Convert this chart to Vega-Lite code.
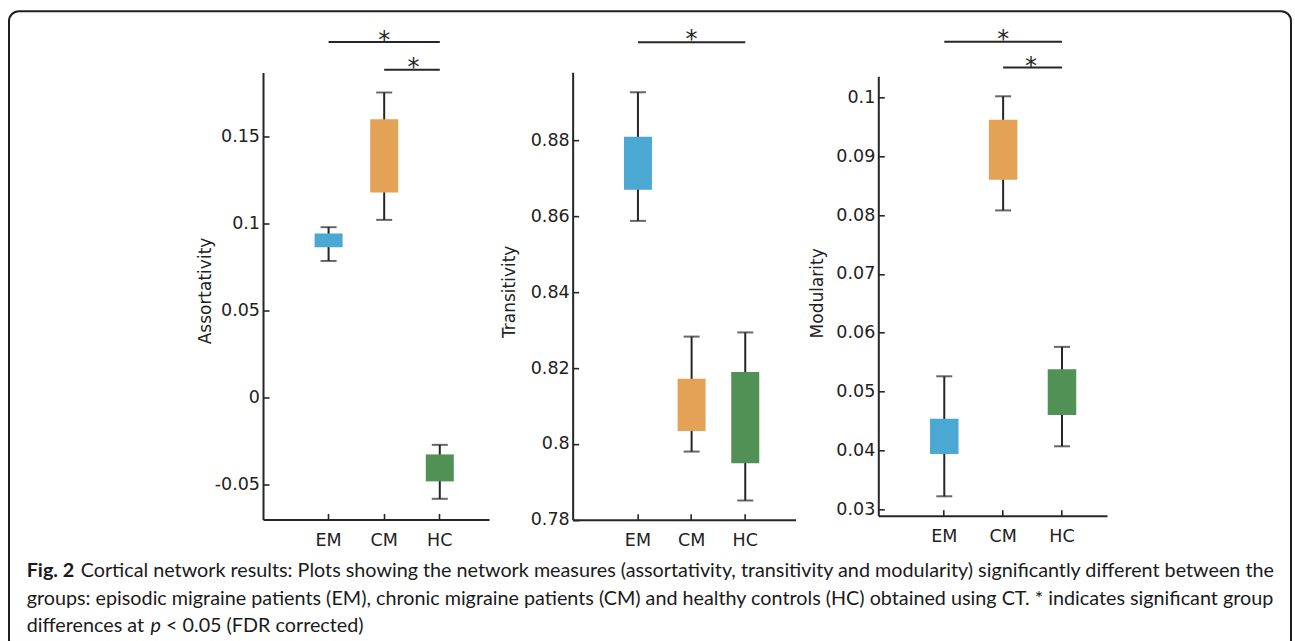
{
  "$schema": "https://vega.github.io/schema/vega-lite/v6.json",
  "padding": {"left": 8, "top": 10, "right": 0, "bottom": 0},
  "background": "white",
  "config": {
    "view": {"stroke": null},
    "axis": {
      "domainColor": "#262626", "domainWidth": 2,
      "tickColor": "#262626", "tickWidth": 1.6, "tickSize": -6,
      "labelFont": "DejaVu Sans", "labelFontSize": 17.5, "labelColor": "#222222",
      "titleFont": "DejaVu Sans", "titleFontSize": 17, "titleFontWeight": "normal", "titleColor": "#222222",
      "grid": false
    },
    "axisX": {"labelPadding": 18, "labelAngle": 0},
    "axisY": {"labelPadding": 9.5}
  },
  "datasets": {
    "boxes": [
      {"measure": "Assortativity", "group": "EM", "lo": 0.0783, "q1": 0.0862, "q3": 0.0940, "hi": 0.0977},
      {"measure": "Assortativity", "group": "CM", "lo": 0.1019, "q1": 0.1176, "q3": 0.1598, "hi": 0.1751},
      {"measure": "Assortativity", "group": "HC", "lo": -0.0584, "q1": -0.0484, "q3": -0.0329, "hi": -0.0274},
      {"measure": "Transitivity", "group": "EM", "lo": 0.8588, "q1": 0.867, "q3": 0.881, "hi": 0.8927},
      {"measure": "Transitivity", "group": "CM", "lo": 0.798, "q1": 0.8034, "q3": 0.8172, "hi": 0.8283},
      {"measure": "Transitivity", "group": "HC", "lo": 0.7851, "q1": 0.7949, "q3": 0.819, "hi": 0.8294},
      {"measure": "Modularity", "group": "EM", "lo": 0.0322, "q1": 0.0394, "q3": 0.0454, "hi": 0.0526},
      {"measure": "Modularity", "group": "CM", "lo": 0.0808, "q1": 0.0860, "q3": 0.0962, "hi": 0.1002},
      {"measure": "Modularity", "group": "HC", "lo": 0.0407, "q1": 0.0460, "q3": 0.0538, "hi": 0.0576}
    ],
    "sig": [
      {"measure": "Assortativity", "from": "EM", "to": "HC", "mid": "CM", "pair": "outer", "level": 0.2042, "star": "*"},
      {"measure": "Assortativity", "from": "CM", "to": "HC", "mid": "HC", "pair": "inner", "level": 0.1882, "star": "*"},
      {"measure": "Transitivity", "from": "EM", "to": "HC", "mid": "CM", "pair": "outer", "level": 0.9059, "star": "*"},
      {"measure": "Modularity", "from": "EM", "to": "HC", "mid": "CM", "pair": "outer", "level": 0.10946, "star": "*"},
      {"measure": "Modularity", "from": "CM", "to": "HC", "mid": "HC", "pair": "inner", "level": 0.1051, "star": "*"}
    ]
  },
  "hconcat": [
    {
      "width": 226.05, "height": 447,
      "layer": [
        {
          "layer": [
            {"data": {"name": "boxes"}, "transform": [{"filter": "datum.measure === 'Assortativity'"}],
             "mark": {"type": "rule", "color": "#262626", "strokeWidth": 2},
             "encoding": {
               "x": {"field": "group", "type": "nominal", "scale": {"type": "band", "domain": ["EM", "CM", "HC"], "paddingInner": 0.4964, "paddingOuter": 0.781, "align": 0.594}, "axis": {"title": null}},
               "y": {"field": "lo", "type": "quantitative", "scale": {"domain": [-0.0703, 0.1866], "nice": false, "zero": false},
                     "axis": {"title": "Assortativity", "values": [-0.05, 0, 0.05, 0.1, 0.15], "labelExpr": "toString(datum.value)", "titleX": -58, "titleY": 218, "titleAngle": -90, "titleBaseline": "middle", "titleAlign": "center"}},
               "y2": {"field": "hi"}}},
            {"data": {"name": "boxes"}, "transform": [{"filter": "datum.measure === 'Assortativity'"}],
             "mark": {"type": "tick", "color": "#262626", "thickness": 2, "size": 16, "orient": "horizontal"},
             "encoding": {
               "x": {"field": "group", "type": "nominal", "scale": {"type": "band", "domain": ["EM", "CM", "HC"], "paddingInner": 0.4964, "paddingOuter": 0.781, "align": 0.594}, "axis": {"title": null}},
               "y": {"field": "lo", "type": "quantitative", "scale": {"domain": [-0.0703, 0.1866], "nice": false, "zero": false},
                     "axis": {"title": "Assortativity", "values": [-0.05, 0, 0.05, 0.1, 0.15], "labelExpr": "toString(datum.value)", "titleX": -58, "titleY": 218, "titleAngle": -90, "titleBaseline": "middle", "titleAlign": "center"}}}},
            {"data": {"name": "boxes"}, "transform": [{"filter": "datum.measure === 'Assortativity'"}],
             "mark": {"type": "tick", "color": "#262626", "thickness": 2, "size": 16, "orient": "horizontal"},
             "encoding": {
               "x": {"field": "group", "type": "nominal", "scale": {"type": "band", "domain": ["EM", "CM", "HC"], "paddingInner": 0.4964, "paddingOuter": 0.781, "align": 0.594}, "axis": {"title": null}},
               "y": {"field": "hi", "type": "quantitative", "scale": {"domain": [-0.0703, 0.1866], "nice": false, "zero": false},
                     "axis": {"title": "Assortativity", "values": [-0.05, 0, 0.05, 0.1, 0.15], "labelExpr": "toString(datum.value)", "titleX": -58, "titleY": 218, "titleAngle": -90, "titleBaseline": "middle", "titleAlign": "center"}}}},
            {"data": {"name": "boxes"}, "transform": [{"filter": "datum.measure === 'Assortativity'"}],
             "mark": {"type": "bar"},
             "encoding": {
               "x": {"field": "group", "type": "nominal", "scale": {"type": "band", "domain": ["EM", "CM", "HC"], "paddingInner": 0.4964, "paddingOuter": 0.781, "align": 0.594}, "axis": {"title": null}},
               "y": {"field": "q1", "type": "quantitative", "scale": {"domain": [-0.0703, 0.1866], "nice": false, "zero": false},
                     "axis": {"title": "Assortativity", "values": [-0.05, 0, 0.05, 0.1, 0.15], "labelExpr": "toString(datum.value)", "titleX": -58, "titleY": 218, "titleAngle": -90, "titleBaseline": "middle", "titleAlign": "center"}},
               "y2": {"field": "q3"},
               "color": {"field": "group", "type": "nominal", "scale": {"domain": ["EM", "CM", "HC"], "range": ["#4aa8d3", "#e4a256", "#519156"]}, "legend": null}}},
            {"data": {"name": "sig"}, "transform": [{"filter": "datum.measure === 'Assortativity'"}],
             "mark": {"type": "rule", "color": "#262626", "strokeWidth": 2},
             "encoding": {
               "x": {"field": "from", "type": "nominal", "scale": {"type": "band", "domain": ["EM", "CM", "HC"], "paddingInner": 0.4964, "paddingOuter": 0.781, "align": 0.594}, "axis": {"title": null}},
               "x2": {"field": "to"},
               "y": {"field": "level", "type": "quantitative", "scale": {"domain": [-0.0703, 0.1866], "nice": false, "zero": false},
                     "axis": {"title": "Assortativity", "values": [-0.05, 0, 0.05, 0.1, 0.15], "labelExpr": "toString(datum.value)", "titleX": -58, "titleY": 218, "titleAngle": -90, "titleBaseline": "middle", "titleAlign": "center"}}}},
            {"data": {"name": "sig"}, "transform": [{"filter": "datum.measure === 'Assortativity' && datum.pair === 'outer'"}],
             "mark": {"type": "text", "font": "DejaVu Sans", "fontSize": 24, "baseline": "alphabetic", "dy": 5.8, "color": "#262626"},
             "encoding": {
               "x": {"field": "mid", "type": "nominal", "scale": {"type": "band", "domain": ["EM", "CM", "HC"], "paddingInner": 0.4964, "paddingOuter": 0.781, "align": 0.594}, "axis": {"title": null}},
               "y": {"field": "level", "type": "quantitative", "scale": {"domain": [-0.0703, 0.1866], "nice": false, "zero": false},
                     "axis": {"title": "Assortativity", "values": [-0.05, 0, 0.05, 0.1, 0.15], "labelExpr": "toString(datum.value)", "titleX": -58, "titleY": 218, "titleAngle": -90, "titleBaseline": "middle", "titleAlign": "center"}},
               "text": {"field": "star"}}},
            {"data": {"name": "sig"}, "transform": [{"filter": "datum.measure === 'Assortativity' && datum.pair === 'inner'"}],
             "mark": {"type": "text", "font": "DejaVu Sans", "fontSize": 24, "baseline": "alphabetic", "dy": 5.5, "dx": -26.3, "color": "#262626"},
             "encoding": {
               "x": {"field": "mid", "type": "nominal", "scale": {"type": "band", "domain": ["EM", "CM", "HC"], "paddingInner": 0.4964, "paddingOuter": 0.781, "align": 0.594}, "axis": {"title": null}},
               "y": {"field": "level", "type": "quantitative", "scale": {"domain": [-0.0703, 0.1866], "nice": false, "zero": false},
                     "axis": {"title": "Assortativity", "values": [-0.05, 0, 0.05, 0.1, 0.15], "labelExpr": "toString(datum.value)", "titleX": -58, "titleY": 218, "titleAngle": -90, "titleBaseline": "middle", "titleAlign": "center"}},
               "text": {"field": "star"}}}
          ]
        },
        {
          "layer": [
            {"data": {"values": [{"frame": "figure border"}]},
             "mark": {"type": "rect", "filled": false, "color": "#1f1f1f", "strokeWidth": 2, "cornerRadius": 10},
             "encoding": {
               "x": {"datum": -254, "type": "quantitative", "scale": {"domain": [0, 226.05], "nice": false, "zero": false}, "axis": null},
               "x2": {"datum": 1028},
               "y": {"datum": -61.35, "type": "quantitative", "scale": {"domain": [0, 447], "reverse": true, "nice": false, "zero": false}, "axis": null},
               "y2": {"datum": 577.65}}},
            {"data": {"values": [{"text": "Fig. 2"}]},
             "mark": {"type": "text", "align": "left", "baseline": "alphabetic", "font": "Lato", "fontWeight": "bold", "fontSize": 19.75, "color": "#1a1a1a"},
             "encoding": {
               "x": {"datum": -236.3, "type": "quantitative", "scale": {"domain": [0, 226.05], "nice": false, "zero": false}, "axis": null},
               "y": {"datum": 504.65, "type": "quantitative", "scale": {"domain": [0, 447], "reverse": true, "nice": false, "zero": false}, "axis": null},
               "text": {"field": "text"}}},
            {"data": {"values": [{"text": "Cortical network results: Plots showing the network measures (assortativity, transitivity and modularity) significantly different between the"}]},
             "mark": {"type": "text", "align": "left", "baseline": "alphabetic", "font": "Lato", "fontSize": 19.75, "color": "#1a1a1a"},
             "encoding": {
               "x": {"datum": -182.3, "type": "quantitative", "scale": {"domain": [0, 226.05], "nice": false, "zero": false}, "axis": null},
               "y": {"datum": 504.65, "type": "quantitative", "scale": {"domain": [0, 447], "reverse": true, "nice": false, "zero": false}, "axis": null},
               "text": {"field": "text"}}},
            {"data": {"values": [{"text": "groups: episodic migraine patients (EM), chronic migraine patients (CM) and healthy controls (HC) obtained using CT. * indicates significant group"}]},
             "mark": {"type": "text", "align": "left", "baseline": "alphabetic", "font": "Lato", "fontSize": 19.75, "color": "#1a1a1a"},
             "encoding": {
               "x": {"datum": -236.3, "type": "quantitative", "scale": {"domain": [0, 226.05], "nice": false, "zero": false}, "axis": null},
               "y": {"datum": 532.15, "type": "quantitative", "scale": {"domain": [0, 447], "reverse": true, "nice": false, "zero": false}, "axis": null},
               "text": {"field": "text"}}},
            {"data": {"values": [{"text": "differences at"}]},
             "mark": {"type": "text", "align": "left", "baseline": "alphabetic", "font": "Lato", "fontSize": 19.75, "color": "#1a1a1a"},
             "encoding": {
               "x": {"datum": -236.3, "type": "quantitative", "scale": {"domain": [0, 226.05], "nice": false, "zero": false}, "axis": null},
               "y": {"datum": 559.65, "type": "quantitative", "scale": {"domain": [0, 447], "reverse": true, "nice": false, "zero": false}, "axis": null},
               "text": {"field": "text"}}},
            {"data": {"values": [{"text": "p"}]},
             "mark": {"type": "text", "align": "left", "baseline": "alphabetic", "font": "Lato", "fontStyle": "italic", "fontSize": 19.75, "color": "#1a1a1a"},
             "encoding": {
               "x": {"datum": -112.5, "type": "quantitative", "scale": {"domain": [0, 226.05], "nice": false, "zero": false}, "axis": null},
               "y": {"datum": 559.65, "type": "quantitative", "scale": {"domain": [0, 447], "reverse": true, "nice": false, "zero": false}, "axis": null},
               "text": {"field": "text"}}},
            {"data": {"values": [{"text": "< 0.05 (FDR corrected)"}]},
             "mark": {"type": "text", "align": "left", "baseline": "alphabetic", "font": "Lato", "fontSize": 19.75, "color": "#1a1a1a"},
             "encoding": {
               "x": {"datum": -97, "type": "quantitative", "scale": {"domain": [0, 226.05], "nice": false, "zero": false}, "axis": null},
               "y": {"datum": 559.65, "type": "quantitative", "scale": {"domain": [0, 447], "reverse": true, "nice": false, "zero": false}, "axis": null},
               "text": {"field": "text"}}}
          ]
        }
      ],
      "resolve": {"scale": {"x": "independent", "y": "independent"}, "axis": {"x": "independent", "y": "independent"}}
    },
    {
      "width": 222.95, "height": 447.7,
      "layer": [
        {"data": {"name": "boxes"}, "transform": [{"filter": "datum.measure === 'Transitivity'"}],
         "mark": {"type": "rule", "color": "#262626", "strokeWidth": 2},
         "encoding": {
           "x": {"field": "group", "type": "nominal", "scale": {"type": "band", "domain": ["EM", "CM", "HC"], "paddingInner": 0.4781, "paddingOuter": 0.8169, "align": 0.5853}, "axis": {"title": null}},
           "y": {"field": "lo", "type": "quantitative", "scale": {"domain": [0.78, 0.898], "nice": false, "zero": false},
                 "axis": {"title": "Transitivity", "values": [0.78, 0.8, 0.82, 0.84, 0.86, 0.88], "labelExpr": "toString(datum.value)", "titleX": -62.7, "titleY": 219.2, "titleAngle": -90, "titleBaseline": "middle", "titleAlign": "center"}},
           "y2": {"field": "hi"}}},
        {"data": {"name": "boxes"}, "transform": [{"filter": "datum.measure === 'Transitivity'"}],
         "mark": {"type": "tick", "color": "#262626", "thickness": 2, "size": 16, "orient": "horizontal"},
         "encoding": {
           "x": {"field": "group", "type": "nominal", "scale": {"type": "band", "domain": ["EM", "CM", "HC"], "paddingInner": 0.4781, "paddingOuter": 0.8169, "align": 0.5853}, "axis": {"title": null}},
           "y": {"field": "lo", "type": "quantitative", "scale": {"domain": [0.78, 0.898], "nice": false, "zero": false},
                 "axis": {"title": "Transitivity", "values": [0.78, 0.8, 0.82, 0.84, 0.86, 0.88], "labelExpr": "toString(datum.value)", "titleX": -62.7, "titleY": 219.2, "titleAngle": -90, "titleBaseline": "middle", "titleAlign": "center"}}}},
        {"data": {"name": "boxes"}, "transform": [{"filter": "datum.measure === 'Transitivity'"}],
         "mark": {"type": "tick", "color": "#262626", "thickness": 2, "size": 16, "orient": "horizontal"},
         "encoding": {
           "x": {"field": "group", "type": "nominal", "scale": {"type": "band", "domain": ["EM", "CM", "HC"], "paddingInner": 0.4781, "paddingOuter": 0.8169, "align": 0.5853}, "axis": {"title": null}},
           "y": {"field": "hi", "type": "quantitative", "scale": {"domain": [0.78, 0.898], "nice": false, "zero": false},
                 "axis": {"title": "Transitivity", "values": [0.78, 0.8, 0.82, 0.84, 0.86, 0.88], "labelExpr": "toString(datum.value)", "titleX": -62.7, "titleY": 219.2, "titleAngle": -90, "titleBaseline": "middle", "titleAlign": "center"}}}},
        {"data": {"name": "boxes"}, "transform": [{"filter": "datum.measure === 'Transitivity'"}],
         "mark": {"type": "bar"},
         "encoding": {
           "x": {"field": "group", "type": "nominal", "scale": {"type": "band", "domain": ["EM", "CM", "HC"], "paddingInner": 0.4781, "paddingOuter": 0.8169, "align": 0.5853}, "axis": {"title": null}},
           "y": {"field": "q1", "type": "quantitative", "scale": {"domain": [0.78, 0.898], "nice": false, "zero": false},
                 "axis": {"title": "Transitivity", "values": [0.78, 0.8, 0.82, 0.84, 0.86, 0.88], "labelExpr": "toString(datum.value)", "titleX": -62.7, "titleY": 219.2, "titleAngle": -90, "titleBaseline": "middle", "titleAlign": "center"}},
           "y2": {"field": "q3"},
           "color": {"field": "group", "type": "nominal", "scale": {"domain": ["EM", "CM", "HC"], "range": ["#4aa8d3", "#e4a256", "#519156"]}, "legend": null}}},
        {"data": {"name": "sig"}, "transform": [{"filter": "datum.measure === 'Transitivity'"}],
         "mark": {"type": "rule", "color": "#262626", "strokeWidth": 2},
         "encoding": {
           "x": {"field": "from", "type": "nominal", "scale": {"type": "band", "domain": ["EM", "CM", "HC"], "paddingInner": 0.4781, "paddingOuter": 0.8169, "align": 0.5853}, "axis": {"title": null}},
           "x2": {"field": "to"},
           "y": {"field": "level", "type": "quantitative", "scale": {"domain": [0.78, 0.898], "nice": false, "zero": false},
                 "axis": {"title": "Transitivity", "values": [0.78, 0.8, 0.82, 0.84, 0.86, 0.88], "labelExpr": "toString(datum.value)", "titleX": -62.7, "titleY": 219.2, "titleAngle": -90, "titleBaseline": "middle", "titleAlign": "center"}}}},
        {"data": {"name": "sig"}, "transform": [{"filter": "datum.measure === 'Transitivity' && datum.pair === 'outer'"}],
         "mark": {"type": "text", "font": "DejaVu Sans", "fontSize": 24, "baseline": "alphabetic", "dy": 5.1, "color": "#262626"},
         "encoding": {
           "x": {"field": "mid", "type": "nominal", "scale": {"type": "band", "domain": ["EM", "CM", "HC"], "paddingInner": 0.4781, "paddingOuter": 0.8169, "align": 0.5853}, "axis": {"title": null}},
           "y": {"field": "level", "type": "quantitative", "scale": {"domain": [0.78, 0.898], "nice": false, "zero": false},
                 "axis": {"title": "Transitivity", "values": [0.78, 0.8, 0.82, 0.84, 0.86, 0.88], "labelExpr": "toString(datum.value)", "titleX": -62.7, "titleY": 219.2, "titleAngle": -90, "titleBaseline": "middle", "titleAlign": "center"}},
           "text": {"field": "star"}}}
      ]
    },
    {
      "width": 228.7, "height": 439.4,
      "layer": [
        {"data": {"name": "boxes"}, "transform": [{"filter": "datum.measure === 'Modularity'"}],
         "mark": {"type": "rule", "color": "#262626", "strokeWidth": 2},
         "encoding": {
           "x": {"field": "group", "type": "nominal", "scale": {"type": "band", "domain": ["EM", "CM", "HC"], "paddingInner": 0.5157, "paddingOuter": 0.701, "align": 0.627}, "axis": {"title": null}},
           "y": {"field": "lo", "type": "quantitative", "scale": {"domain": [0.0289, 0.1036], "nice": false, "zero": false},
                 "axis": {"title": "Modularity", "values": [0.03, 0.04, 0.05, 0.06, 0.07, 0.08, 0.09, 0.1], "labelExpr": "toString(datum.value)", "titleX": -60.6, "titleY": 216.5, "titleAngle": -90, "titleBaseline": "middle", "titleAlign": "center"}},
           "y2": {"field": "hi"}}},
        {"data": {"name": "boxes"}, "transform": [{"filter": "datum.measure === 'Modularity'"}],
         "mark": {"type": "tick", "color": "#262626", "thickness": 2, "size": 16, "orient": "horizontal"},
         "encoding": {
           "x": {"field": "group", "type": "nominal", "scale": {"type": "band", "domain": ["EM", "CM", "HC"], "paddingInner": 0.5157, "paddingOuter": 0.701, "align": 0.627}, "axis": {"title": null}},
           "y": {"field": "lo", "type": "quantitative", "scale": {"domain": [0.0289, 0.1036], "nice": false, "zero": false},
                 "axis": {"title": "Modularity", "values": [0.03, 0.04, 0.05, 0.06, 0.07, 0.08, 0.09, 0.1], "labelExpr": "toString(datum.value)", "titleX": -60.6, "titleY": 216.5, "titleAngle": -90, "titleBaseline": "middle", "titleAlign": "center"}}}},
        {"data": {"name": "boxes"}, "transform": [{"filter": "datum.measure === 'Modularity'"}],
         "mark": {"type": "tick", "color": "#262626", "thickness": 2, "size": 16, "orient": "horizontal"},
         "encoding": {
           "x": {"field": "group", "type": "nominal", "scale": {"type": "band", "domain": ["EM", "CM", "HC"], "paddingInner": 0.5157, "paddingOuter": 0.701, "align": 0.627}, "axis": {"title": null}},
           "y": {"field": "hi", "type": "quantitative", "scale": {"domain": [0.0289, 0.1036], "nice": false, "zero": false},
                 "axis": {"title": "Modularity", "values": [0.03, 0.04, 0.05, 0.06, 0.07, 0.08, 0.09, 0.1], "labelExpr": "toString(datum.value)", "titleX": -60.6, "titleY": 216.5, "titleAngle": -90, "titleBaseline": "middle", "titleAlign": "center"}}}},
        {"data": {"name": "boxes"}, "transform": [{"filter": "datum.measure === 'Modularity'"}],
         "mark": {"type": "bar"},
         "encoding": {
           "x": {"field": "group", "type": "nominal", "scale": {"type": "band", "domain": ["EM", "CM", "HC"], "paddingInner": 0.5157, "paddingOuter": 0.701, "align": 0.627}, "axis": {"title": null}},
           "y": {"field": "q1", "type": "quantitative", "scale": {"domain": [0.0289, 0.1036], "nice": false, "zero": false},
                 "axis": {"title": "Modularity", "values": [0.03, 0.04, 0.05, 0.06, 0.07, 0.08, 0.09, 0.1], "labelExpr": "toString(datum.value)", "titleX": -60.6, "titleY": 216.5, "titleAngle": -90, "titleBaseline": "middle", "titleAlign": "center"}},
           "y2": {"field": "q3"},
           "color": {"field": "group", "type": "nominal", "scale": {"domain": ["EM", "CM", "HC"], "range": ["#4aa8d3", "#e4a256", "#519156"]}, "legend": null}}},
        {"data": {"name": "sig"}, "transform": [{"filter": "datum.measure === 'Modularity'"}],
         "mark": {"type": "rule", "color": "#262626", "strokeWidth": 2},
         "encoding": {
           "x": {"field": "from", "type": "nominal", "scale": {"type": "band", "domain": ["EM", "CM", "HC"], "paddingInner": 0.5157, "paddingOuter": 0.701, "align": 0.627}, "axis": {"title": null}},
           "x2": {"field": "to"},
           "y": {"field": "level", "type": "quantitative", "scale": {"domain": [0.0289, 0.1036], "nice": false, "zero": false},
                 "axis": {"title": "Modularity", "values": [0.03, 0.04, 0.05, 0.06, 0.07, 0.08, 0.09, 0.1], "labelExpr": "toString(datum.value)", "titleX": -60.6, "titleY": 216.5, "titleAngle": -90, "titleBaseline": "middle", "titleAlign": "center"}}}},
        {"data": {"name": "sig"}, "transform": [{"filter": "datum.measure === 'Modularity' && datum.pair === 'outer'"}],
         "mark": {"type": "text", "font": "DejaVu Sans", "fontSize": 24, "baseline": "alphabetic", "dy": 5.4, "color": "#262626"},
         "encoding": {
           "x": {"field": "mid", "type": "nominal", "scale": {"type": "band", "domain": ["EM", "CM", "HC"], "paddingInner": 0.5157, "paddingOuter": 0.701, "align": 0.627}, "axis": {"title": null}},
           "y": {"field": "level", "type": "quantitative", "scale": {"domain": [0.0289, 0.1036], "nice": false, "zero": false},
                 "axis": {"title": "Modularity", "values": [0.03, 0.04, 0.05, 0.06, 0.07, 0.08, 0.09, 0.1], "labelExpr": "toString(datum.value)", "titleX": -60.6, "titleY": 216.5, "titleAngle": -90, "titleBaseline": "middle", "titleAlign": "center"}},
           "text": {"field": "star"}}},
        {"data": {"name": "sig"}, "transform": [{"filter": "datum.measure === 'Modularity' && datum.pair === 'inner'"}],
         "mark": {"type": "text", "font": "DejaVu Sans", "fontSize": 24, "baseline": "alphabetic", "dy": 6.5, "dx": -31, "color": "#262626"},
         "encoding": {
           "x": {"field": "mid", "type": "nominal", "scale": {"type": "band", "domain": ["EM", "CM", "HC"], "paddingInner": 0.5157, "paddingOuter": 0.701, "align": 0.627}, "axis": {"title": null}},
           "y": {"field": "level", "type": "quantitative", "scale": {"domain": [0.0289, 0.1036], "nice": false, "zero": false},
                 "axis": {"title": "Modularity", "values": [0.03, 0.04, 0.05, 0.06, 0.07, 0.08, 0.09, 0.1], "labelExpr": "toString(datum.value)", "titleX": -60.6, "titleY": 216.5, "titleAngle": -90, "titleBaseline": "middle", "titleAlign": "center"}},
           "text": {"field": "star"}}}
      ]
    }
  ],
  "spacing": 82.65,
  "bounds": "flush",
  "center": true
}
